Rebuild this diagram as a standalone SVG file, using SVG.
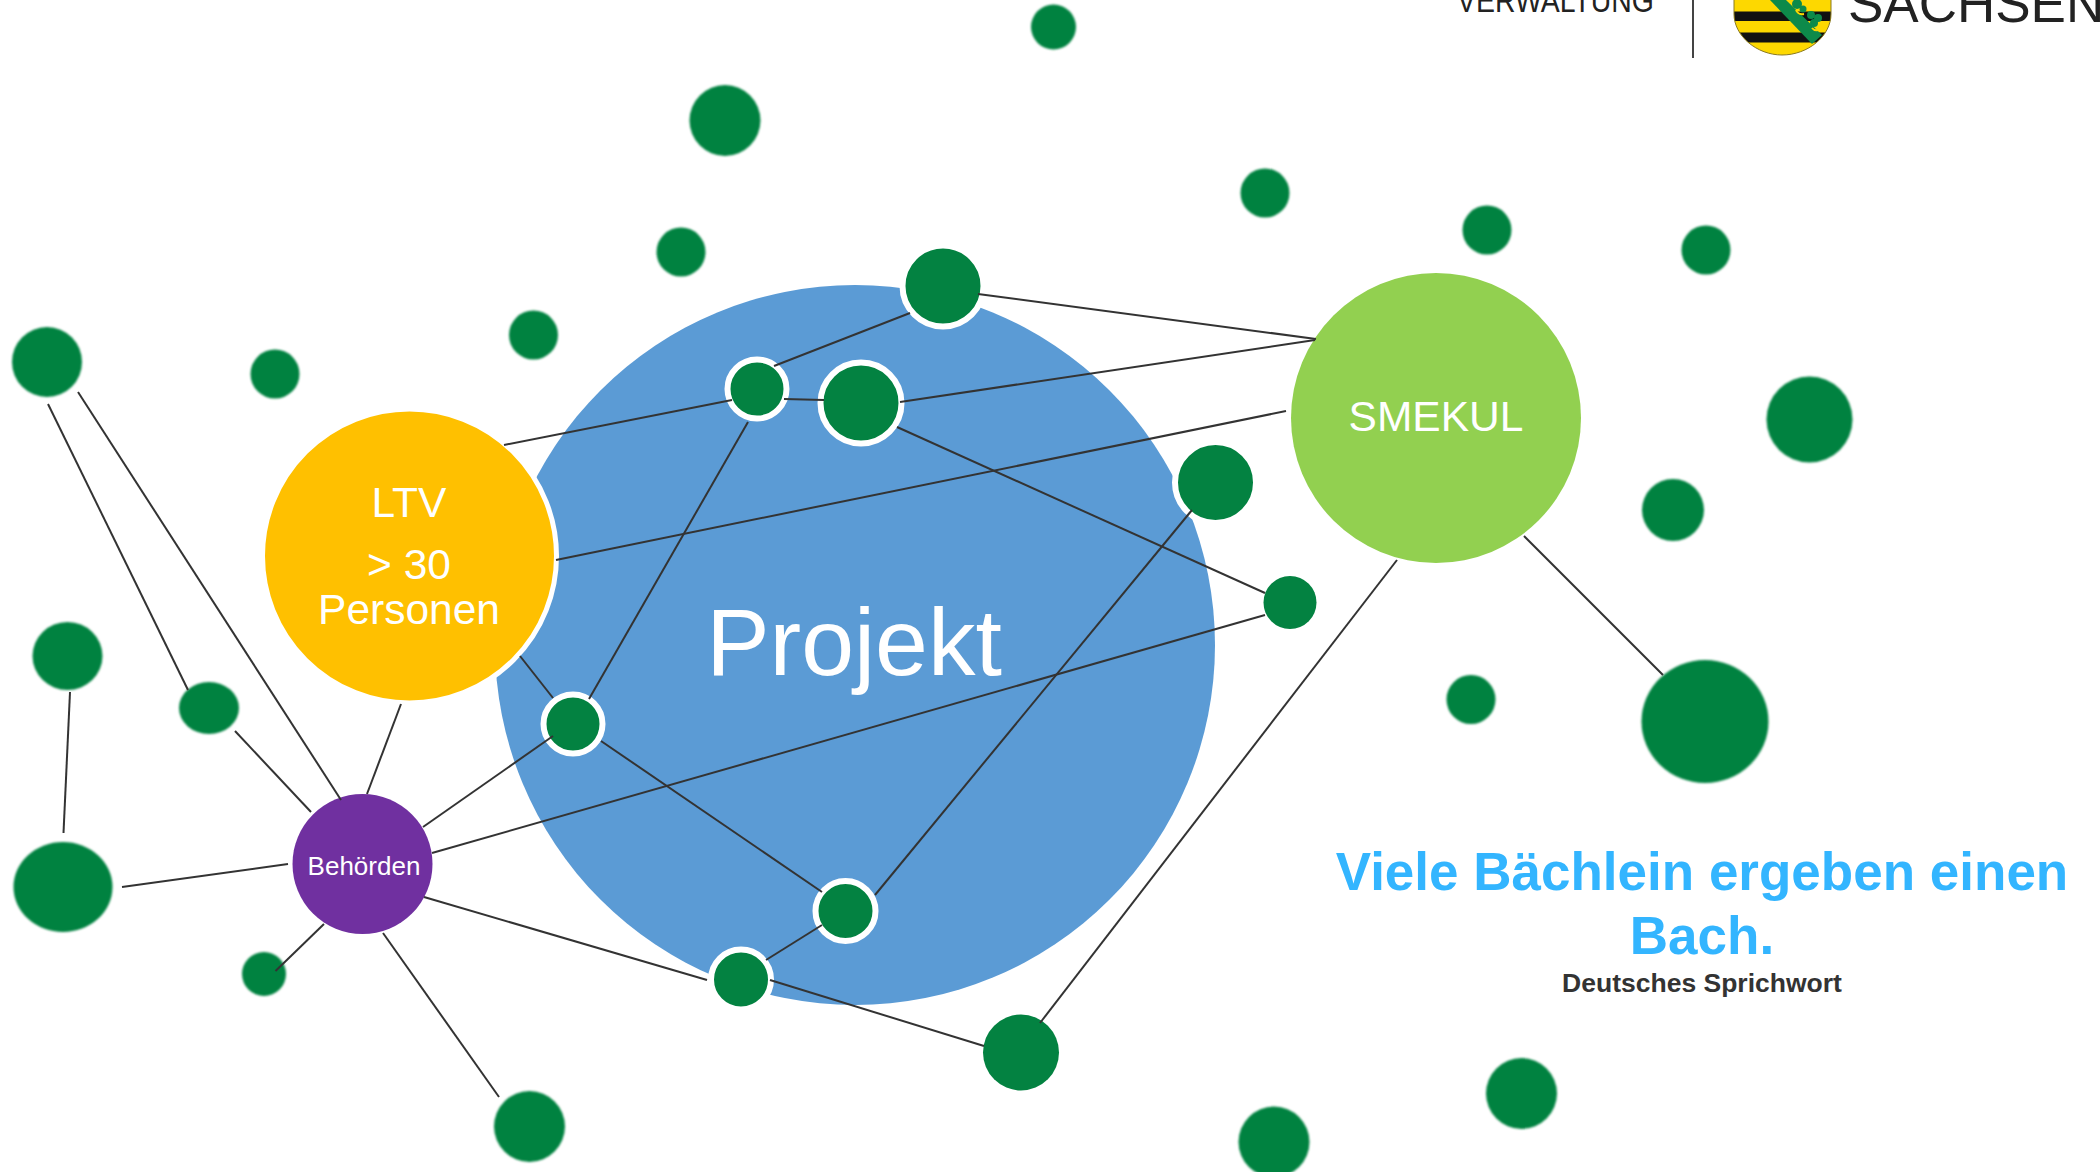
<svg xmlns="http://www.w3.org/2000/svg" width="2100" height="1172" viewBox="0 0 2100 1172">
<style>
.g{fill:#038241}
.w{fill:#038241;stroke:#fff;stroke-width:6}
.b{filter:url(#soft)}
#connectors line{stroke:#333;stroke-width:2}
text{font-family:"Liberation Sans",Arial,sans-serif;text-anchor:middle}
.t{fill:#fff}
.q{font-weight:bold;font-size:53px;fill:#33b5ff}
</style>
<defs>
<filter id="soft" x="-10%" y="-10%" width="120%" height="120%"><feGaussianBlur stdDeviation="0.8"/></filter>
<clipPath id="shield"><path d="M1734 0H1831V14C1831 36 1808 55 1782 55C1757 55 1734 36 1734 14Z"/></clipPath>
</defs>
<rect width="2100" height="1172" fill="#fff"/>
<g id="logo">
<text x="1555.5" y="12" font-size="33" fill="#222" textLength="197" lengthAdjust="spacingAndGlyphs">VERWALTUNG</text>
<rect x="1692" y="0" width="2" height="58" fill="#444"/>
<g clip-path="url(#shield)">
<rect x="1734" y="0" width="97" height="58" fill="#fdd800"/>
<rect x="1734" y="11.5" width="97" height="9.5" fill="#111"/>
<rect x="1734" y="32.5" width="97" height="10" fill="#111"/>
<path d="M1770 0L1812 44L1822 35L1786 0Z" fill="#0d8a4a"/>
<g fill="#0d8a4a"><circle cx="1797" cy="4" r="5"/><circle cx="1803" cy="9" r="3.5"/><circle cx="1811" cy="15" r="4"/><circle cx="1818" cy="18" r="4"/><circle cx="1814" cy="23" r="4"/></g>
<path d="M1796 10Q1798 15 1804 14M1812 28Q1815 32 1822 29" fill="none" stroke="#fdd800" stroke-width="2"/>
</g>
<path d="M1734 0V14C1734 36 1757 55 1782 55C1808 55 1831 36 1831 14V0" fill="none" stroke="#8a7a20" stroke-width="1"/>
<text x="1848" y="22" font-size="53" fill="#222" style="text-anchor:start">SACHSEN</text>
</g>
<g id="projekt"><circle cx="855" cy="645" r="360" fill="#5b9bd5"/><text class="t" x="854" y="675" font-size="95">Projekt</text></g>
<g id="ltv"><circle cx="409.5" cy="556" r="147" fill="#ffc000" stroke="#fff" stroke-width="5"/><text class="t" x="409" y="517" font-size="42.5">LTV</text><text class="t" x="409" y="579" font-size="42.5">&gt; 30</text><text class="t" x="409" y="624" font-size="42.5">Personen</text></g>
<g id="smekul"><circle cx="1436" cy="418" r="145" fill="#92d050"/><text class="t" x="1436" y="431" font-size="42.5">SMEKUL</text></g>
<g id="behoerden"><circle cx="362.5" cy="864" r="70" fill="#7030a0"/><text class="t" x="364" y="875" font-size="26">Behörden</text></g>
<g id="n1"><circle class="g b" cx="1053.5" cy="27" r="22.5"/></g>
<g id="n2"><circle class="g b" cx="725" cy="120.5" r="35.5"/></g>
<g id="n3"><circle class="g b" cx="681" cy="252" r="24.5"/></g>
<g id="n4"><circle class="g b" cx="533.5" cy="335" r="24.5"/></g>
<g id="n5"><circle class="g b" cx="275" cy="374" r="24.5"/></g>
<g id="n6"><circle class="g b" cx="47" cy="362" r="35"/></g>
<g id="n7"><circle class="g b" cx="1265" cy="193" r="24.5"/></g>
<g id="n8"><circle class="g b" cx="1487" cy="230" r="24.5"/></g>
<g id="n9"><circle class="g b" cx="1706" cy="250" r="24.5"/></g>
<g id="n10"><circle class="g b" cx="1809.5" cy="419.5" r="43"/></g>
<g id="n11"><circle class="g b" cx="1673" cy="510" r="31"/></g>
<g id="n12"><circle class="g b" cx="1471" cy="699.5" r="24.5"/></g>
<g id="n13"><ellipse class="g b" cx="1705" cy="721.5" rx="63.5" ry="61.5"/></g>
<g id="n14"><ellipse class="g b" cx="67.5" cy="656" rx="35" ry="34"/></g>
<g id="n15"><ellipse class="g b" cx="209" cy="708" rx="30" ry="26"/></g>
<g id="n16"><ellipse class="g b" cx="63" cy="887" rx="49.5" ry="45"/></g>
<g id="n17"><ellipse class="g b" cx="264" cy="974" rx="22" ry="22"/></g>
<g id="n18"><circle class="g b" cx="529.5" cy="1126.5" r="35.5"/></g>
<g id="n19"><circle class="g b" cx="1274" cy="1142" r="35.5"/></g>
<g id="n20"><circle class="g b" cx="1521.5" cy="1093.5" r="35.5"/></g>
<g id="n21"><circle class="g" cx="1021" cy="1052.5" r="38"/></g>
<g id="n22"><circle class="w" cx="943" cy="286" r="40.5"/></g>
<g id="n23"><circle class="w" cx="757" cy="389" r="29.5"/></g>
<g id="n24"><circle class="w" cx="861" cy="403" r="40.5"/></g>
<g id="n25"><circle class="w" cx="1215.5" cy="482.5" r="40.5"/></g>
<g id="n26"><circle class="g" cx="1290" cy="602.5" r="26.5"/></g>
<g id="n27"><circle class="w" cx="573" cy="724" r="29.5"/></g>
<g id="n28"><circle class="w" cx="845.5" cy="911" r="30"/></g>
<g id="n29"><circle class="w" cx="741" cy="979.5" r="30"/></g>
<g id="connectors">
<line x1="910" y1="313" x2="774" y2="366"/>
<line x1="978" y1="294" x2="1316" y2="339"/>
<line x1="900" y1="402" x2="1315" y2="340"/>
<line x1="784" y1="399" x2="824" y2="400"/>
<line x1="504" y1="445" x2="732" y2="400"/>
<line x1="748" y1="422" x2="589" y2="699"/>
<line x1="897" y1="427" x2="1265" y2="593"/>
<line x1="556" y1="560" x2="1286" y2="411"/>
<line x1="1192" y1="510" x2="875" y2="895"/>
<line x1="1265" y1="615" x2="432" y2="853"/>
<line x1="423" y1="827" x2="553" y2="736"/>
<line x1="520" y1="656" x2="553" y2="698"/>
<line x1="601" y1="741" x2="822" y2="892"/>
<line x1="367" y1="794" x2="401" y2="704"/>
<line x1="311" y1="812" x2="235" y2="731"/>
<line x1="341" y1="800" x2="78" y2="392"/>
<line x1="188" y1="690" x2="48" y2="404"/>
<line x1="70" y1="692" x2="63.5" y2="833"/>
<line x1="122" y1="887" x2="288" y2="864"/>
<line x1="324" y1="924" x2="275.5" y2="971"/>
<line x1="383" y1="933" x2="499" y2="1097"/>
<line x1="424" y1="897" x2="707" y2="980"/>
<line x1="766" y1="960" x2="822" y2="925"/>
<line x1="770" y1="980" x2="984" y2="1046"/>
<line x1="1040" y1="1023" x2="1397" y2="560"/>
<line x1="1524" y1="536" x2="1663" y2="675"/>
</g>
<g id="quote">
<text class="q" x="1702" y="890">Viele Bächlein ergeben einen</text>
<text class="q" x="1702" y="954">Bach.</text>
<text x="1702" y="992" font-size="26.5" font-weight="bold" fill="#333">Deutsches Sprichwort</text>
</g>
</svg>
